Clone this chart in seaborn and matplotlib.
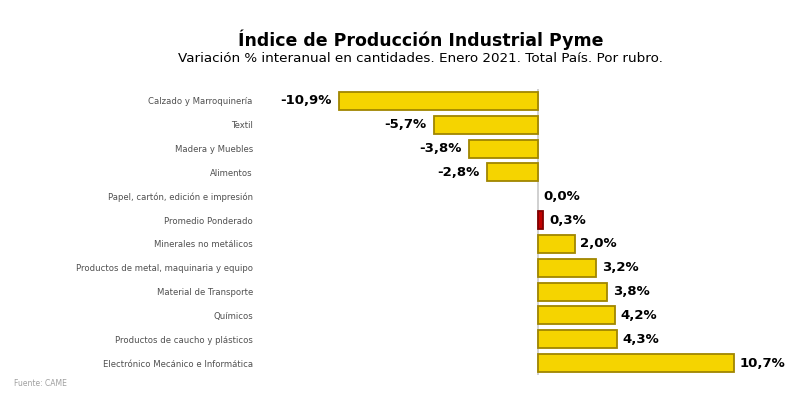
import pandas as pd
import seaborn as sns
import matplotlib.pyplot as plt

# Data
rubros = [
    "Calzado y Marroquinería",
    "Textil",
    "Madera y Muebles",
    "Alimentos",
    "Papel, cartón, edición e impresión",
    "Promedio Ponderado",
    "Minerales no metálicos",
    "Productos de metal, maquinaria y equipo",
    "Material de Transporte",
    "Químicos",
    "Productos de caucho y plásticos",
    "Electrónico Mecánico e Informática",
]
variacion = [-10.9, -5.7, -3.8, -2.8, 0.0, 0.3, 2.0, 3.2, 3.8, 4.2, 4.3, 10.7]

df = pd.DataFrame({"rubro": rubros, "variacion": variacion})

sns.set_theme(style="white")
plt.rcParams["font.family"] = ["DejaVu Sans"]

fig = plt.figure(figsize=(8, 3.95), dpi=100)
ax = fig.add_axes([300 / 800, 1 - 375 / 395, 480 / 800, 286 / 395])

# gold bars, red for the weighted average
colores = ["#C00000" if r == "Promedio Ponderado" else "#F5D400" for r in rubros]

sns.barplot(
    data=df,
    x="variacion",
    y="rubro",
    hue="rubro",
    palette=colores,
    saturation=1,
    dodge=False,
    legend=False,
    orient="h",
    width=0.76,
    edgecolor="#A08600",
    linewidth=1.3,
    ax=ax,
)
for patch, r, v in zip(ax.patches, rubros, variacion):
    if r == "Promedio Ponderado":
        patch.set_edgecolor("#800000")
    if v == 0:
        patch.set_linewidth(0)

ax.set_xlim(-13.02, 13.24)
ax.set_ylim(11.5, -0.5)

# zero line
ax.axvline(0, color="#C8C8C8", linewidth=1.2, zorder=0)

# value labels
for i, v in enumerate(variacion):
    txt = f"{v:.1f}".replace(".", ",") + "%"
    if v < 0:
        ax.annotate(txt, (v, i), xytext=(-5, 0), textcoords="offset points",
                    ha="right", va="center", fontsize=9.5, fontweight="bold", color="black")
    else:
        ax.annotate(txt, (v, i), xytext=(4, 0), textcoords="offset points",
                    ha="left", va="center", fontsize=9.5, fontweight="bold", color="black")

ax.set_xlabel("")
ax.set_ylabel("")
ax.set_xticks([])
ax.tick_params(axis="y", length=0, pad=34, labelsize=6.1, labelcolor="#505050")
for spine in ax.spines.values():
    spine.set_visible(False)

# Titles
fig.text(421 / 800, 1 - 40 / 395, "Índice de Producción Industrial Pyme",
         ha="center", va="center", fontsize=12.5, fontweight="bold", color="black")
fig.text(421 / 800, 1 - 58 / 395,
         "Variación % interanual en cantidades. Enero 2021. Total País. Por rubro.",
         ha="center", va="center", fontsize=9.7, color="black")
fig.text(14 / 800, 1 - 383 / 395, "Fuente: CAME", ha="left", va="center",
         fontsize=5.5, color="#A0A0A0")

fig.savefig("out.png", dpi=100)
